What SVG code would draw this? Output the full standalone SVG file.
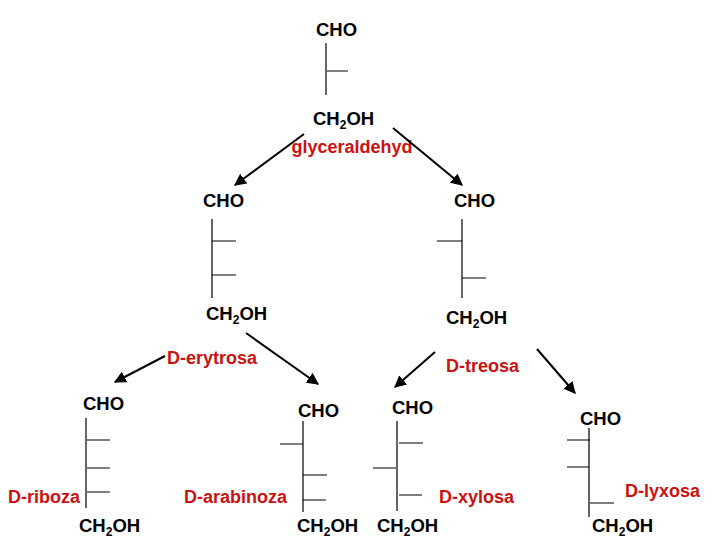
<svg xmlns="http://www.w3.org/2000/svg" width="720" height="540" viewBox="0 0 720 540">
<defs>
<style>
.t{font-family:"Liberation Sans",Arial,sans-serif;font-weight:bold;font-size:18.5px;fill:#000}
.r{font-family:"Liberation Sans",Arial,sans-serif;font-weight:bold;font-size:18px;fill:#cc1111}
.s{font-size:12px}
.l{stroke:#000;stroke-width:1.2;fill:none}
.a{stroke:#000;stroke-width:2;fill:none;marker-end:url(#ah)}
</style>
<marker id="ah" viewBox="0 0 10 10" refX="9" refY="5" markerWidth="6" markerHeight="6" orient="auto"><path d="M0,0L10,5L0,10z" fill="#000"/></marker>
</defs>
<rect width="720" height="540" fill="#fff"/>
<g id="glyceraldehyd">
<text class="t" x="316" y="36">CHO</text>
<path class="l" d="M326,43V95M327,71H348"/>
<text class="t" x="313" y="125">CH<tspan class="s" dy="4">2</tspan><tspan dy="-4">OH</tspan></text>
<text class="r" x="352" y="153" text-anchor="middle">glyceraldehyd</text>
</g>
<g id="erytrosa">
<text class="t" x="203" y="207">CHO</text>
<path class="l" d="M212,219V298M212,241H236M212,275H236"/>
<text class="t" x="206" y="320">CH<tspan class="s" dy="4">2</tspan><tspan dy="-4">OH</tspan></text>
<text class="r" x="167" y="364">D-erytrosa</text>
</g>
<g id="treosa">
<text class="t" x="454" y="207">CHO</text>
<path class="l" d="M462,219V298M437,241H462M462,278H486"/>
<text class="t" x="446" y="324">CH<tspan class="s" dy="4">2</tspan><tspan dy="-4">OH</tspan></text>
<text class="r" x="446" y="372">D-treosa</text>
</g>
<g id="riboza">
<text class="t" x="83" y="410">CHO</text>
<path class="l" d="M86,418V508M87,440H110M87,468H110M87,492H110"/>
<text class="t" x="79" y="532">CH<tspan class="s" dy="4">2</tspan><tspan dy="-4">OH</tspan></text>
<text class="r" x="8" y="503">D-riboza</text>
</g>
<g id="arabinoza">
<text class="t" x="298" y="417">CHO</text>
<path class="l" d="M303,421V512M280,444H303M303,475H327M303,500H326"/>
<text class="t" x="297" y="532">CH<tspan class="s" dy="4">2</tspan><tspan dy="-4">OH</tspan></text>
<text class="r" x="184" y="503">D-arabinoza</text>
</g>
<g id="xylosa">
<text class="t" x="392" y="414">CHO</text>
<path class="l" d="M397,421V511M399,443H423M373,468H396M399,495H422"/>
<text class="t" x="377" y="532">CH<tspan class="s" dy="4">2</tspan><tspan dy="-4">OH</tspan></text>
<text class="r" x="439" y="503">D-xylosa</text>
</g>
<g id="lyxosa">
<text class="t" x="580" y="425">CHO</text>
<path class="l" d="M589,428V517M567,440H590M567,467H589M590,503H614"/>
<text class="t" x="592" y="532">CH<tspan class="s" dy="4">2</tspan><tspan dy="-4">OH</tspan></text>
<text class="r" x="625" y="497">D-lyxosa</text>
</g>
<g id="connectors">
<path class="a" d="M304,134L235,185"/>
<path class="a" d="M393,128L462,185"/>
<path class="a" d="M165,356L115,382"/>
<path class="a" d="M246,333L318,384"/>
<path class="a" d="M435,352L395,387"/>
<path class="a" d="M537,349L575,393"/>
</g>
</svg>
